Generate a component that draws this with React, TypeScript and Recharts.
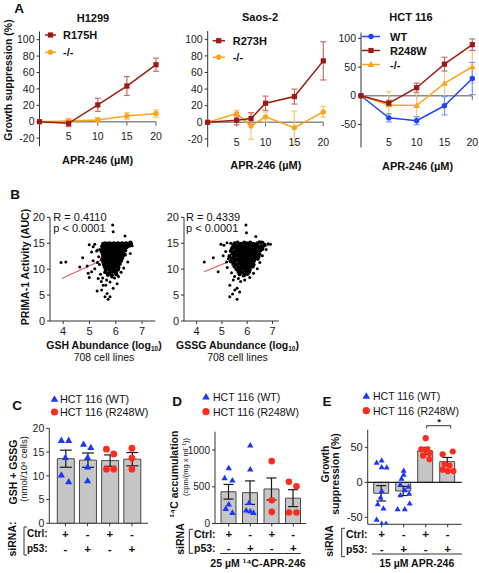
import React from 'react';
import {
  LineChart, Line, XAxis, YAxis, ErrorBar, ReferenceLine,
  ScatterChart, Scatter, ComposedChart, Bar,
} from 'recharts';

const FONT = '"Liberation Sans", Arial, Helvetica, sans-serif';
const DARK_RED = '#9c1a12';
const ORANGE = '#ffa21c';
const BLUE = '#1f45ff';
const TRI_BLUE = '#1b37ff';
const DOT_RED = '#ff2b1c';

// ---------- Panel A data ----------
const doseTicks = [5, 10, 15, 20];

const h1299Dose = [0, 5, 10, 15, 20];
const h1299R175H = [0, -2, 20.5, 43.5, 69.5];
const h1299R175HSem = [0, 4, 8, 11.5, 8];
const h1299Null = [0, 1, 2, 7, 10];
const h1299NullSem = [0, 3, 3, 4, 4.5];

const saosDose = [0, 5, 7.5, 10, 15, 20];
const saosR273H = [0, 2.5, 4.5, 23, 31, 74];
const saosR273HSem = [0, 5.5, 7, 8.5, 9, 23];
const saosNull = [0, 10.5, -4.5, 6.5, -6.5, 12.5];
const saosNullSem = [0, 4, 16, 6, 20, 6.5];

const hctDose = [0, 5, 10, 15, 20];
const hctWT = [0, -38.5, -43.5, -17.5, 30];
const hctWTSem = [0, 7, 7, 16, 28];
const hctR248W = [0, -13, 14, 55, 89];
const hctR248WSem = [0, 5, 8, 12, 10];
const hctNull = [0, -16, -17, 21.5, 50.5];
const hctNullSem = [0, 23, 20, 36, 28];

// ---------- Panel B data ----------
// sparse (outlying) cell lines
const gshSparse: number[][] = [
  [3.92, 11.3], [4.1, 11.4], [4.63, 10.4], [4.74, 12.2], [4.91, 10.6], [4.95, 9.2], [4.99, 8.4], [5.08, 9.5],
  [4.99, 14.7], [5.14, 14.3], [5.31, 13.7], [5.08, 13.3], [5.27, 13.5], [5.2, 14.8], [5.14, 11.6], [5.33, 8.2],
  [5.29, 5.8], [5.46, 6.0], [5.52, 6.9], [5.62, 6.9], [5.59, 4.7], [5.71, 4.2], [5.67, 5.3], [5.78, 4.7],
  [5.9, 6.3], [5.88, 18.5], [5.9, 17.2], [6.35, 16.4], [6.54, 15.1], [5.35, 12.4], [5.38, 10.9], [5.42, 9.0],
  [5.45, 7.6], [5.5, 8.3], [5.65, 7.9], [5.78, 7.5], [5.95, 8.3], [6.1, 8.6], [6.2, 9.4], [6.3, 10.2],
  [6.45, 11.4], [6.55, 13.0], [6.62, 14.5], [6.6, 14.9], [5.4, 13.8], [5.3, 11.3], [5.2, 10.1], [6.05, 7.2],
  [5.85, 8.5],
];
// dense core of cell lines
const gshCore: number[][] = [
  [5.52, 14.9], [5.6, 15.0], [5.68, 14.9], [5.76, 15.0], [5.84, 14.9], [5.92, 15.0], [6.0, 14.9], [6.08, 15.0],
  [6.16, 14.9], [6.24, 15.0], [6.32, 14.9], [6.4, 15.0], [6.48, 14.9], [6.56, 15.1],
  [5.48, 14.4], [5.56, 14.5], [5.64, 14.4], [5.72, 14.5], [5.8, 14.4], [5.88, 14.5], [5.96, 14.4], [6.04, 14.5],
  [6.12, 14.4], [6.2, 14.5], [6.28, 14.4], [6.36, 14.6], [6.46, 14.5], [6.55, 14.6],
  [5.5, 13.9], [5.58, 14.0], [5.66, 13.9], [5.74, 14.0], [5.82, 13.9], [5.9, 14.0], [5.98, 13.9], [6.06, 14.0],
  [6.14, 13.9], [6.22, 14.1], [6.3, 13.9], [6.4, 14.2],
  [5.46, 13.4], [5.54, 13.5], [5.62, 13.4], [5.7, 13.5], [5.78, 13.4], [5.86, 13.5], [5.94, 13.4], [6.02, 13.5],
  [6.1, 13.4], [6.18, 13.5], [6.27, 13.3], [6.36, 13.6],
  [5.5, 12.9], [5.58, 13.0], [5.66, 12.9], [5.74, 13.0], [5.82, 12.9], [5.9, 13.0], [5.98, 12.9], [6.06, 13.0],
  [6.14, 12.9], [6.24, 13.1], [6.34, 12.8],
  [5.52, 12.4], [5.6, 12.5], [5.68, 12.4], [5.76, 12.5], [5.84, 12.4], [5.92, 12.5], [6.0, 12.4], [6.08, 12.5],
  [6.17, 12.3], [6.27, 12.6],
  [5.48, 11.9], [5.56, 12.0], [5.64, 11.9], [5.72, 12.0], [5.8, 11.9], [5.88, 12.0], [5.96, 11.9], [6.04, 12.0],
  [6.13, 11.8], [6.24, 12.1],
  [5.52, 11.4], [5.6, 11.5], [5.68, 11.4], [5.76, 11.5], [5.84, 11.4], [5.92, 11.5], [6.0, 11.4], [6.1, 11.3], [6.2, 11.6],
  [5.55, 10.9], [5.63, 11.0], [5.71, 10.9], [5.79, 11.0], [5.87, 10.9], [5.95, 11.0], [6.04, 10.8], [6.15, 11.0],
  [5.58, 10.4], [5.67, 10.5], [5.75, 10.4], [5.83, 10.5], [5.91, 10.4], [6.0, 10.5], [6.1, 10.3],
  [5.62, 9.9], [5.72, 10.0], [5.8, 9.9], [5.9, 10.0], [5.98, 9.8], [6.08, 9.9],
  [5.6, 9.4], [5.75, 9.3], [5.88, 9.5], [6.0, 9.4],
  [5.7, 8.9], [5.85, 8.8], [6.02, 9.0],
];
const gshFit = [{ x: 3.95, y: 8.2 }, { x: 6.6, y: 14.4 }];

const gssgSparse: number[][] = [
  [4.3, 11.4], [4.66, 12.2], [4.96, 14.8], [5.08, 14.6], [4.85, 9.5], [5.18, 11.4], [5.38, 9.3], [5.21, 10.3],
  [5.31, 6.9], [5.45, 7.9], [5.51, 6.0], [5.6, 6.3], [5.31, 4.7], [5.6, 4.2], [5.74, 7.6], [5.84, 8.7],
  [5.95, 18.5], [5.97, 17.0], [6.34, 16.3], [6.7, 14.8], [6.83, 14.9], [6.92, 14.8], [5.05, 12.6], [5.15, 13.4],
  [5.25, 12.0], [5.5, 8.6], [5.65, 8.2], [5.9, 7.9], [6.1, 8.4], [6.25, 9.2], [6.4, 10.1], [6.5, 11.3],
  [6.6, 12.6], [6.75, 13.8], [5.42, 5.2], [5.7, 5.6], [5.2, 15.1], [5.35, 15.0], [6.48, 15.3], [6.62, 15.2],
];
const gssgCore: number[][] = [
  [5.5, 15.0], [5.62, 15.1], [5.75, 14.9], [5.88, 15.1], [6.0, 15.0], [6.12, 15.1], [6.25, 14.9], [6.4, 15.0], [6.55, 15.1],
  [5.45, 14.5], [5.58, 14.4], [5.7, 14.6], [5.8, 14.5], [5.9, 14.4], [6.0, 14.6], [6.1, 14.5], [6.2, 14.4],
  [6.3, 14.6], [6.42, 14.5], [6.55, 14.4], [6.68, 14.6],
  [5.4, 14.0], [5.55, 14.1], [5.66, 13.9], [5.76, 14.0], [5.86, 14.1], [5.95, 13.9], [6.04, 14.0], [6.13, 14.1],
  [6.22, 13.9], [6.32, 14.0], [6.45, 14.1], [6.6, 13.9],
  [5.35, 13.5], [5.5, 13.4], [5.62, 13.6], [5.73, 13.5], [5.83, 13.4], [5.92, 13.6], [6.01, 13.5], [6.1, 13.4],
  [6.19, 13.6], [6.28, 13.5], [6.38, 13.4], [6.52, 13.6],
  [5.42, 13.0], [5.56, 12.9], [5.68, 13.1], [5.78, 13.0], [5.88, 12.9], [5.97, 13.1], [6.06, 13.0], [6.15, 12.9],
  [6.25, 13.1], [6.36, 13.0], [6.48, 12.9],
  [5.3, 12.5], [5.48, 12.4], [5.62, 12.6], [5.74, 12.5], [5.84, 12.4], [5.93, 12.6], [6.02, 12.5], [6.11, 12.4],
  [6.2, 12.6], [6.32, 12.5], [6.45, 12.4],
  [5.4, 12.0], [5.55, 11.9], [5.68, 12.1], [5.79, 12.0], [5.89, 11.9], [5.98, 12.1], [6.07, 12.0], [6.17, 11.9],
  [6.28, 12.1], [6.42, 12.0],
  [5.35, 11.5], [5.5, 11.4], [5.64, 11.6], [5.76, 11.5], [5.86, 11.4], [5.95, 11.6], [6.05, 11.5], [6.15, 11.4], [6.27, 11.6],
  [5.45, 11.0], [5.6, 10.9], [5.72, 11.1], [5.83, 11.0], [5.93, 10.9], [6.03, 11.1], [6.13, 11.0], [6.25, 10.9],
  [5.5, 10.5], [5.66, 10.4], [5.78, 10.6], [5.9, 10.5], [6.0, 10.4], [6.12, 10.6], [6.22, 10.5],
  [5.58, 10.0], [5.72, 9.9], [5.85, 10.1], [5.97, 10.0], [6.1, 9.9],
  [5.65, 9.5], [5.8, 9.4], [5.95, 9.6], [6.08, 9.5],
  [5.7, 9.0], [5.9, 8.9], [6.02, 9.1],
];
const gssgFit = [{ x: 4.3, y: 9.5 }, { x: 6.96, y: 14.85 }];

// ---------- Panels C, D, E data ----------
const groups = ['WT ctrl', 'WT p53', 'R248W ctrl', 'R248W p53'];
const ctrlSigns = ['+', '-', '+', '-'];
const p53Signs = ['-', '+', '-', '+'];

const gsMeans = [13.6, 13.3, 13.2, 13.5];
const gsSem = [1.8, 1.5, 1.2, 1.4];
const gsWT: number[][] = [[0.82, 17.5], [1.15, 17.5], [1.0, 13.9], [0.82, 10.2], [1.15, 8.8],
  [1.82, 16.7], [2.15, 16.0], [2.0, 13.9], [2.0, 11.9], [2.0, 9.0]];
const gsMut: number[][] = [[2.85, 15.6], [3.18, 14.6], [2.85, 11.4], [3.18, 11.4],
  [4.0, 15.8], [4.0, 13.7], [4.0, 11.4]];

const c14Means = [432, 420, 470, 345];
const c14Sem = [100, 160, 150, 115];
const c14WT: number[][] = [[1.0, 757], [0.81, 621], [1.17, 590], [1.0, 263], [0.86, 204], [1.17, 150],
  [2.0, 1067], [2.0, 740], [1.95, 286], [1.81, 181], [2.0, 168], [2.15, 150]];
const c14Mut: number[][] = [[3.0, 849], [3.0, 317], [3.0, 158],
  [3.8, 567], [4.15, 508], [3.8, 150], [4.15, 150]];

const gsupMeans = [-15.7, -12.4, 44.8, 29.5];
const gsupSem = [11, 6.5, 5, 6];
const gsupWT: number[][] = [[0.77, 28.4], [1.0, 31.6], [1.0, 22], [1.23, 21.4], [1.0, -12], [0.95, -21.5],
  [0.82, -31], [1.08, -37], [0.77, -53], [1.0, -59], [1.2, -59],
  [2.0, 17], [2.0, 11], [1.9, 5.5], [1.85, -3], [2.22, -6], [2.05, -11], [2.25, -16], [1.85, -18],
  [2.27, -30], [2.05, -38], [1.72, -38]];
const gsupMut: number[][] = [[3.0, 63], [2.8, 47], [3.07, 47], [3.18, 42], [2.88, 38], [3.17, 33],
  [3.77, 40], [4.23, 44], [3.85, 26], [4.08, 24], [3.77, 18], [4.0, 16], [4.26, 16]];

// ---------- helpers ----------
const mk = (xs: number[], ys: number[], es: number[]) => xs.map((x, i) => ({ x, y: ys[i], e: es[i] }));
const pts = (a: number[][]) => a.map(([x, y]) => ({ x, y }));

const dotFor = (shape: string, color: string) => (p: any) => {
  const { cx, cy, index } = p;
  if (cx == null || cy == null) return <g key={`d${index}`} />;
  if (shape === 'square') return <rect key={`d${index}`} x={cx - 2.6} y={cy - 2.6} width={5.2} height={5.2} fill={color} />;
  if (shape === 'triangle') return <polygon key={`d${index}`} points={`${cx},${cy - 3.4} ${cx - 3.3},${cy + 2.4} ${cx + 3.3},${cy + 2.4}`} fill={color} />;
  return <circle key={`d${index}`} cx={cx} cy={cy} r={2.7} fill={color} />;
};

const T = ({ x, y, s = 11, b = false, r = 0, a = 'middle', children }: any) => {
  const tx = a === 'middle' ? '-50%' : a === 'end' ? '-100%' : '0%';
  return (
    <div style={{
      position: 'absolute', left: x, top: y, transform: `translate(${tx}, -50%) rotate(${r}deg)`,
      fontSize: s, fontWeight: b ? 700 : 400, color: '#111', whiteSpace: 'nowrap', lineHeight: 1, fontFamily: FONT,
    }}>{children}</div>
  );
};
const Sub = ({ children }: any) => (
  <span style={{ fontSize: '0.62em', position: 'relative', top: '0.35em' }}>{children}</span>
);

type Series = { name: string; data: any[]; color: string; err: string; shape: string };

function DoseChart({ left, width, margin, yWidth, xHeight, yDomain, yTicks, labelY, tickDrop, series }: any) {
  return (
    <div style={{ position: 'absolute', left, top: 0 }}>
      <LineChart width={width} height={170} margin={margin}>
        <XAxis type="number" dataKey="x" domain={[0, 20]} ticks={doseTicks} interval={0}
          axisLine={false} tickLine={false} height={xHeight}
          tick={(p: any) => (
            <text key={`t${p.index}`} x={p.x} y={labelY} textAnchor="middle" dominantBaseline="central"
              fontSize={10.5} fontFamily={FONT} fill="#1a1a1a">{p.payload.value}</text>
          )} />
        <YAxis type="number" domain={yDomain} ticks={yTicks} interval={0} width={yWidth} tickSize={3} tickMargin={2}
          axisLine={{ stroke: '#333' }} tickLine={{ stroke: '#333' }}
          tick={{ fontSize: 10.5, fill: '#1a1a1a', fontFamily: FONT }} />
        <ReferenceLine y={0} stroke="#8a8a8a" strokeWidth={1.6} />
        {doseTicks.map((t) => (
          <ReferenceLine key={`k${t}`} segment={[{ x: t, y: 0 }, { x: t, y: -tickDrop }]} stroke="#666" strokeWidth={1} />
        ))}
        {series.map((s: Series) => (
          <Line key={s.name} name={s.name} data={s.data} dataKey="y" stroke={s.color} strokeWidth={1.5}
            dot={dotFor(s.shape, s.color)} activeDot={false} isAnimationActive={false}>
            <ErrorBar dataKey="e" width={3} stroke={s.err} strokeWidth={1.2} />
          </Line>
        ))}
      </LineChart>
    </div>
  );
}

function ScatterPanel({ left, width, margin, yWidth, xDomain, core, sparse, fit }: any) {
  return (
    <div style={{ position: 'absolute', left, top: 200 }}>
      <ScatterChart width={width} height={150} margin={margin}>
        <XAxis type="number" dataKey="x" domain={xDomain} ticks={[4, 5, 6, 7]} interval={0} height={29}
          tickSize={3} tickMargin={3} axisLine={{ stroke: '#333' }} tickLine={{ stroke: '#333' }}
          tick={{ fontSize: 11, fill: '#1a1a1a', fontFamily: FONT }} allowDataOverflow />
        <YAxis type="number" dataKey="y" domain={[0, 20]} ticks={[0, 5, 10, 15, 20]} interval={0} width={yWidth}
          tickSize={3} tickMargin={2} axisLine={{ stroke: '#333' }} tickLine={{ stroke: '#333' }}
          tick={{ fontSize: 11, fill: '#1a1a1a', fontFamily: FONT }} allowDataOverflow />
        <ReferenceLine segment={fit} stroke="#f2555a" strokeWidth={1.1} />
        <Scatter data={pts(sparse)} fill="#000" isAnimationActive={false}
          shape={(p: any) => <circle cx={p.cx} cy={p.cy} r={1.5} fill="#000" />} />
        <Scatter data={pts(core)} fill="#000" isAnimationActive={false}
          shape={(p: any) => <circle cx={p.cx} cy={p.cy} r={2.1} fill="#000" />} />
      </ScatterChart>
    </div>
  );
}

function BarPanel({ left, width, margin, yWidth, xHeight, yDomain, yTicks, pad, means, sems, wt, mut,
  barSize, capW, rows, zeroRef, tri, dotR, tickFont }: any) {
  const data = groups.map((g, i) => ({ g, mean: means[i], sem: sems[i] }));
  return (
    <div style={{ position: 'absolute', left, top: 380 }}>
      <ComposedChart width={width} height={193} margin={margin} data={data}>
        <XAxis xAxisId="cat" dataKey="g" type="category" padding={pad} height={xHeight} interval={0}
          tickSize={3} axisLine={{ stroke: '#333' }} tickLine={{ stroke: '#333' }}
          tick={(p: any) => (
            <g key={`s${p.index}`}>
              <text x={p.x} y={rows[0]} textAnchor="middle" dominantBaseline="central" fontSize={11.5}
                fontWeight={700} fontFamily={FONT} fill="#111">{ctrlSigns[p.index]}</text>
              <text x={p.x} y={rows[1]} textAnchor="middle" dominantBaseline="central" fontSize={11.5}
                fontWeight={700} fontFamily={FONT} fill="#111">{p53Signs[p.index]}</text>
            </g>
          )} />
        <XAxis xAxisId="num" dataKey="x" type="number" domain={[0.5, 4.5]} padding={pad} hide allowDataOverflow />
        <YAxis type="number" domain={yDomain} ticks={yTicks} interval={0} width={yWidth} tickSize={3} tickMargin={2}
          axisLine={{ stroke: '#333' }} tickLine={{ stroke: '#333' }}
          tick={{ fontSize: tickFont, fill: '#1a1a1a', fontFamily: FONT }} allowDataOverflow />
        {zeroRef && <ReferenceLine xAxisId="cat" y={0} stroke="#222" strokeWidth={1.2} />}
        <Bar xAxisId="cat" dataKey="mean" barSize={barSize} fill="#c6c6c6" stroke="#4a4a4a" strokeWidth={1}
          isAnimationActive={false}>
          <ErrorBar dataKey="sem" width={capW} stroke="#1a1a1a" strokeWidth={1.2} />
        </Bar>
        <Scatter xAxisId="num" name="HCT 116 (WT)" data={pts(wt)} dataKey="y" isAnimationActive={false}
          shape={(p: any) => (
            <polygon points={`${p.cx},${p.cy - tri} ${p.cx - tri},${p.cy + tri * 0.75} ${p.cx + tri},${p.cy + tri * 0.75}`} fill={TRI_BLUE} />
          )} />
        <Scatter xAxisId="num" name="HCT 116 (R248W)" data={pts(mut)} dataKey="y" isAnimationActive={false}
          shape={(p: any) => <circle cx={p.cx} cy={p.cy} r={dotR} fill={DOT_RED} />} />
      </ComposedChart>
    </div>
  );
}

const legendRows = [
  { x0: 45, x1: 56, mx: 50.5, y: 35, color: DARK_RED, shape: 'square' },
  { x0: 45, x1: 56, mx: 50.5, y: 52.3, color: ORANGE, shape: 'circle' },
  { x0: 212.7, x1: 225, mx: 218.7, y: 40.7, color: DARK_RED, shape: 'square' },
  { x0: 212.7, x1: 225, mx: 218.7, y: 57.3, color: ORANGE, shape: 'circle' },
  { x0: 361.7, x1: 380, mx: 371, y: 36.5, color: BLUE, shape: 'circle' },
  { x0: 361.7, x1: 380, mx: 371, y: 50.5, color: DARK_RED, shape: 'square' },
  { x0: 361.7, x1: 380, mx: 371, y: 64.5, color: ORANGE, shape: 'triangle' },
];
const groupLegend = [
  { x: 54.5, y1: 399, y2: 412 },
  { x: 206, y1: 396.7, y2: 411.7 },
  { x: 366.3, y1: 396, y2: 410.7 },
];

export default function App() {
  const h1299Series: Series[] = [
    { name: '-/-', data: mk(h1299Dose, h1299Null, h1299NullSem), color: ORANGE, err: '#ffc771', shape: 'circle' },
    { name: 'R175H', data: mk(h1299Dose, h1299R175H, h1299R175HSem), color: DARK_RED, err: '#c7706b', shape: 'square' },
  ];
  const saosSeries: Series[] = [
    { name: '-/-', data: mk(saosDose, saosNull, saosNullSem), color: ORANGE, err: '#ffc771', shape: 'circle' },
    { name: 'R273H', data: mk(saosDose, saosR273H, saosR273HSem), color: DARK_RED, err: '#c7706b', shape: 'square' },
  ];
  const hctSeries: Series[] = [
    { name: '-/-', data: mk(hctDose, hctNull, hctNullSem), color: ORANGE, err: '#ffc771', shape: 'triangle' },
    { name: 'WT', data: mk(hctDose, hctWT, hctWTSem), color: BLUE, err: '#7f93ff', shape: 'circle' },
    { name: 'R248W', data: mk(hctDose, hctR248W, hctR248WSem), color: DARK_RED, err: '#c7706b', shape: 'square' },
  ];

  return (
    <div style={{ position: 'absolute', left: 0, top: 0, width: 479, height: 573, background: '#fff', overflow: 'hidden', fontFamily: FONT }}>
      {/* Panel A */}
      <DoseChart left={0} width={168} margin={{ top: 31.5, right: 12, left: 0, bottom: 0 }} yWidth={39.5} xHeight={23.7}
        yDomain={[-30, 110]} yTicks={[-20, 0, 20, 40, 60, 80, 100]} labelY={136} tickDrop={5} series={h1299Series} />
      <DoseChart left={160} width={172} margin={{ top: 31, right: 8.7, left: 0, bottom: 0 }} yWidth={47.7} xHeight={22.8}
        yDomain={[-30, 110]} yTicks={[-20, 0, 20, 40, 60, 80, 100]} labelY={142} tickDrop={5} series={saosSeries} />
      <DoseChart left={330} width={149} margin={{ top: 32.6, right: 6.7, left: 0, bottom: 0 }} yWidth={31} xHeight={22.6}
        yDomain={[-90, 110]} yTicks={[-50, 0, 50, 100]} labelY={142} tickDrop={7} series={hctSeries} />

      {/* Panel B */}
      <ScatterPanel left={0} width={160} margin={{ top: 17.3, right: 4.7, left: 0, bottom: 0 }} yWidth={50}
        xDomain={[3.5, 7.5]} core={gshCore} sparse={gshSparse} fit={gshFit} />
      <ScatterPanel left={135} width={150} margin={{ top: 17.3, right: 6.2, left: 0, bottom: 0 }} yWidth={49}
        xDomain={[3.5, 7.25]} core={gssgCore} sparse={gssgSparse} fit={gssgFit} />

      {/* Panels C, D, E */}
      <BarPanel left={0} width={160} margin={{ top: 48.3, right: 12, left: 0, bottom: 0 }} yWidth={49.3} xHeight={49.7}
        yDomain={[0, 20]} yTicks={[0, 5, 10, 15, 20]} pad={{ left: 5, right: 5 }} means={gsMeans} sems={gsSem}
        wt={gsWT} mut={gsMut} barSize={17} capW={6} rows={[153.5, 168.8]} zeroRef={false} tri={3.6} dotR={3.4} tickFont={10.5} />
      <BarPanel left={160} width={160} margin={{ top: 51.7, right: 14, left: 0, bottom: 0 }} yWidth={55} xHeight={49.5}
        yDomain={[0, 1250]} yTicks={[0, 500, 1000]} pad={{ left: 3, right: 2 }} means={c14Means} sems={c14Sem}
        wt={c14WT} mut={c14Mut} barSize={15} capW={5} rows={[154, 168.3]} zeroRef={false} tri={3.2} dotR={3.3} tickFont={10} />
      <BarPanel left={320} width={159} margin={{ top: 49.8, right: 17.3, left: 0, bottom: 0 }} yWidth={47.7} xHeight={48.7}
        yDomain={[-60, 75]} yTicks={[-50, 0, 50]} pad={{ left: 3, right: 3 }} means={gsupMeans} sems={gsupSem}
        wt={gsupWT} mut={gsupMut} barSize={15} capW={5} rows={[154, 169.3]} zeroRef={true} tri={3.0} dotR={3.1} tickFont={11} />

      {/* annotation overlay: legend markers, brackets */}
      <svg width={479} height={573} style={{ position: 'absolute', left: 0, top: 0, pointerEvents: 'none' }}>
        {legendRows.map((r, i) => (
          <g key={`lg${i}`}>
            <line x1={r.x0} x2={r.x1} y1={r.y} y2={r.y} stroke={r.color} strokeWidth={1.5} />
            {dotFor(r.shape, r.color)({ cx: r.mx, cy: r.y, index: `l${i}` })}
          </g>
        ))}
        {groupLegend.map((g, i) => (
          <g key={`gl${i}`}>
            <polygon points={`${g.x},${g.y1 - 3.8} ${g.x - 3.8},${g.y1 + 2.8} ${g.x + 3.8},${g.y1 + 2.8}`} fill={TRI_BLUE} />
            <circle cx={g.x} cy={g.y2} r={3.6} fill={DOT_RED} />
          </g>
        ))}
        <path d="M27,527 L24,527 L24,555 L27,555" fill="none" stroke="#333" strokeWidth={1} />
        <path d="M193,529.3 L189.3,529.3 L189.3,553.3 L193,553.3" fill="none" stroke="#333" strokeWidth={1} />
        <path d="M345,528.3 L341.7,528.3 L341.7,556.7 L345,556.7" fill="none" stroke="#333" strokeWidth={1} />
        <line x1={220} x2={301} y1={553.5} y2={553.5} stroke="#333" strokeWidth={1} />
        <line x1={372} x2={462} y1={554} y2={554} stroke="#333" strokeWidth={1} />
        <path d="M426.7,428.5 L426.7,425.7 L450.7,425.7 L450.7,428.5" fill="none" stroke="#333" strokeWidth={1} />
      </svg>

      {/* Texts */}
      <T x={19} y={9} s={13.5} b>A</T>
      <T x={93} y={18} b>H1299</T>
      <T x={260} y={17} b>Saos-2</T>
      <T x={411} y={17} b>HCT 116</T>
      <T x={7.5} y={80} s={10.5} b r={-90}>Growth suppression (%)</T>
      <T x={97.5} y={159.5} b>APR-246 (µM)</T>
      <T x={265.8} y={165} b>APR-246 (µM)</T>
      <T x={417.5} y={166} b>APR-246 (µM)</T>
      <T x={63} y={35} a="start" b>R175H</T>
      <T x={63} y={52.3} a="start" b>-/-</T>
      <T x={232.7} y={40.7} a="start" b>R273H</T>
      <T x={232.7} y={57.3} a="start" b>-/-</T>
      <T x={390} y={36.5} a="start" b>WT</T>
      <T x={390} y={50.5} a="start" b>R248W</T>
      <T x={390} y={64.5} a="start" b>-/-</T>

      <T x={15} y={195} s={13.5} b>B</T>
      <T x={25} y={267} s={10.5} b r={-90}>PRIMA-1 Activity (AUC)</T>
      <T x={53.3} y={217} a="start">R = 0.4110</T>
      <T x={53.3} y={228} a="start">p &lt; 0.0001</T>
      <T x={186} y={216.5} a="start">R = 0.4339</T>
      <T x={186} y={227.5} a="start">p &lt; 0.0001</T>
      <T x={104} y={345} s={10.5} b>GSH Abundance (log<Sub>10</Sub>)</T>
      <T x={104} y={356.5} s={10.5}>708 cell lines</T>
      <T x={237.5} y={345} s={10.5} b>GSSG Abundance (log<Sub>10</Sub>)</T>
      <T x={237.5} y={356.5} s={10.5}>708 cell lines</T>

      <T x={17} y={406} s={13.5} b>C</T>
      <T x={60} y={399} a="start" s={10.8}>HCT 116 (WT)</T>
      <T x={60} y={412} a="start" s={10.8}>HCT 116 (R248W)</T>
      <T x={12.5} y={472} s={10.5} b r={-90}>GSH + GSSG</T>
      <T x={24} y={469} s={9.5} r={-90}>(nmol/10⁶ cells)</T>
      <T x={12} y={539} s={10.5} b r={-90}>siRNA:</T>
      <T x={27} y={534} a="start" s={10} b>Ctrl:</T>
      <T x={27} y={548.8} a="start" s={10} b>p53:</T>

      <T x={177} y={401.7} s={13.5} b>D</T>
      <T x={213} y={396.7} a="start" s={10.5}>HCT 116 (WT)</T>
      <T x={213} y={411.7} a="start" s={10.5}>HCT 116 (R248W)</T>
      <T x={174} y={474} s={10.5} b r={-90}>¹⁴C accumulation</T>
      <T x={185.5} y={467} s={7.5} r={-90}>(cpm/(mg x ml⁻¹))</T>
      <T x={179.5} y={539} s={10.5} b r={-90}>siRNA</T>
      <T x={194} y={534} a="start" s={10.5} b>Ctrl:</T>
      <T x={194} y={548.3} a="start" s={10.5} b>p53:</T>
      <T x={258} y={563} s={10.5} b>25 µM ¹⁴C-APR-246</T>

      <T x={327} y={401.7} s={13.5} b>E</T>
      <T x={373} y={396} a="start" s={10.5}>HCT 116 (WT)</T>
      <T x={373} y={410.7} a="start" s={10.5}>HCT 116 (R248W)</T>
      <T x={324.5} y={464} s={10.5} b r={-90}>Growth</T>
      <T x={334.5} y={474} s={10.5} b r={-90}>suppression (%)</T>
      <T x={439} y={421.5} s={9.5} b>*</T>
      <T x={329} y={541} s={10.5} b r={-90}>siRNA</T>
      <T x={346} y={534} a="start" s={10.5} b>Ctrl:</T>
      <T x={346} y={549.3} a="start" s={10.5} b>p53:</T>
      <T x={416.7} y={563} s={10.5} b>15 µM APR-246</T>
    </div>
  );
}
